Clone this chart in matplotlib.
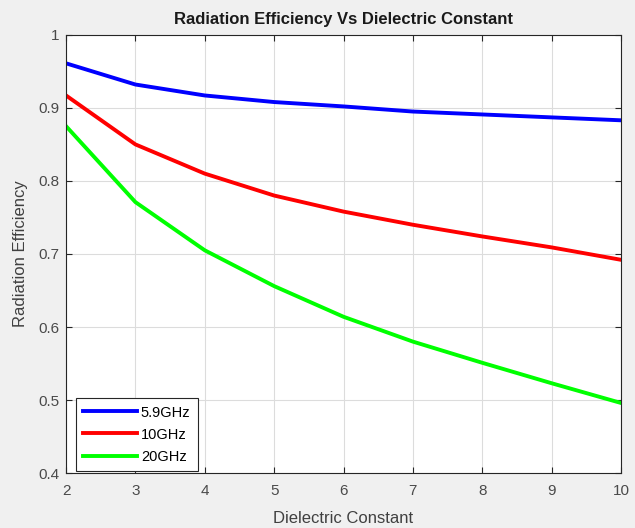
import numpy as np
import matplotlib
matplotlib.use("Agg")
import matplotlib.pyplot as plt

plt.rcParams['font.family'] = ['Liberation Sans', 'DejaVu Sans']

# dielectric constant values
eps_r = [2, 3, 4, 5, 6, 7, 8, 9, 10]
# radiation efficiency
eff_59 = [0.961, 0.932, 0.917, 0.908, 0.902, 0.895, 0.891, 0.887, 0.883]
eff_10 = [0.917, 0.850, 0.810, 0.780, 0.758, 0.740, 0.724, 0.709, 0.692]
eff_20 = [0.875, 0.771, 0.705, 0.656, 0.614, 0.580, 0.551, 0.523, 0.496]
labels = ['5.9GHz', '10GHz', '20GHz']

fig = plt.figure(figsize=(6.35, 5.28), dpi=100, facecolor='#f0f0f0')
ax = fig.add_axes([0.104, 0.104, 0.874, 0.830])

ax.plot(eps_r, eff_59, color='#0000ff', lw=2.8, label=labels[0])
ax.plot(eps_r, eff_10, color='#ff0000', lw=2.8, label=labels[1])
ax.plot(eps_r, eff_20, color='#00ff00', lw=2.8, label=labels[2])

ax.set_xlim(2, 10)
ax.set_ylim(0.4, 1)
ax.set_xticks(range(2, 11))
ax.set_yticks([0.4, 0.5, 0.6, 0.7, 0.8, 0.9, 1])
ax.set_yticklabels(['0.4', '0.5', '0.6', '0.7', '0.8', '0.9', '1'])
ax.grid(True, color='#dcdcdc', lw=0.8)
ax.set_axisbelow(True)
ax.tick_params(direction='in', top=True, right=True, labelsize=11,
               colors='#262626', labelcolor='#4a4a4a', length=4)
ax.tick_params(axis='x', pad=8)
ax.tick_params(axis='y', pad=5)
for s in ax.spines.values():
    s.set_color('#262626')
    s.set_linewidth(0.8)

ax.set_xlabel('Dielectric Constant', fontsize=12, color='#404040', labelpad=9)
ax.set_ylabel('Radiation Efficiency', fontsize=12, color='#404040', labelpad=7)
ax.set_title('Radiation Efficiency Vs Dielectric Constant', fontsize=12,
             fontweight='bold', color='#1a1a1a', pad=8)

leg = ax.legend(loc='lower left', bbox_to_anchor=(0.018, 0.005),
                borderaxespad=0, fontsize=10.5, handlelength=3.7,
                handletextpad=0.25, fancybox=False, framealpha=1,
                labelspacing=0.55, borderpad=0.5)
leg.get_frame().set_edgecolor('#262626')
leg.get_frame().set_linewidth(0.8)

fig.savefig('out.png', dpi=100, facecolor=fig.get_facecolor())
